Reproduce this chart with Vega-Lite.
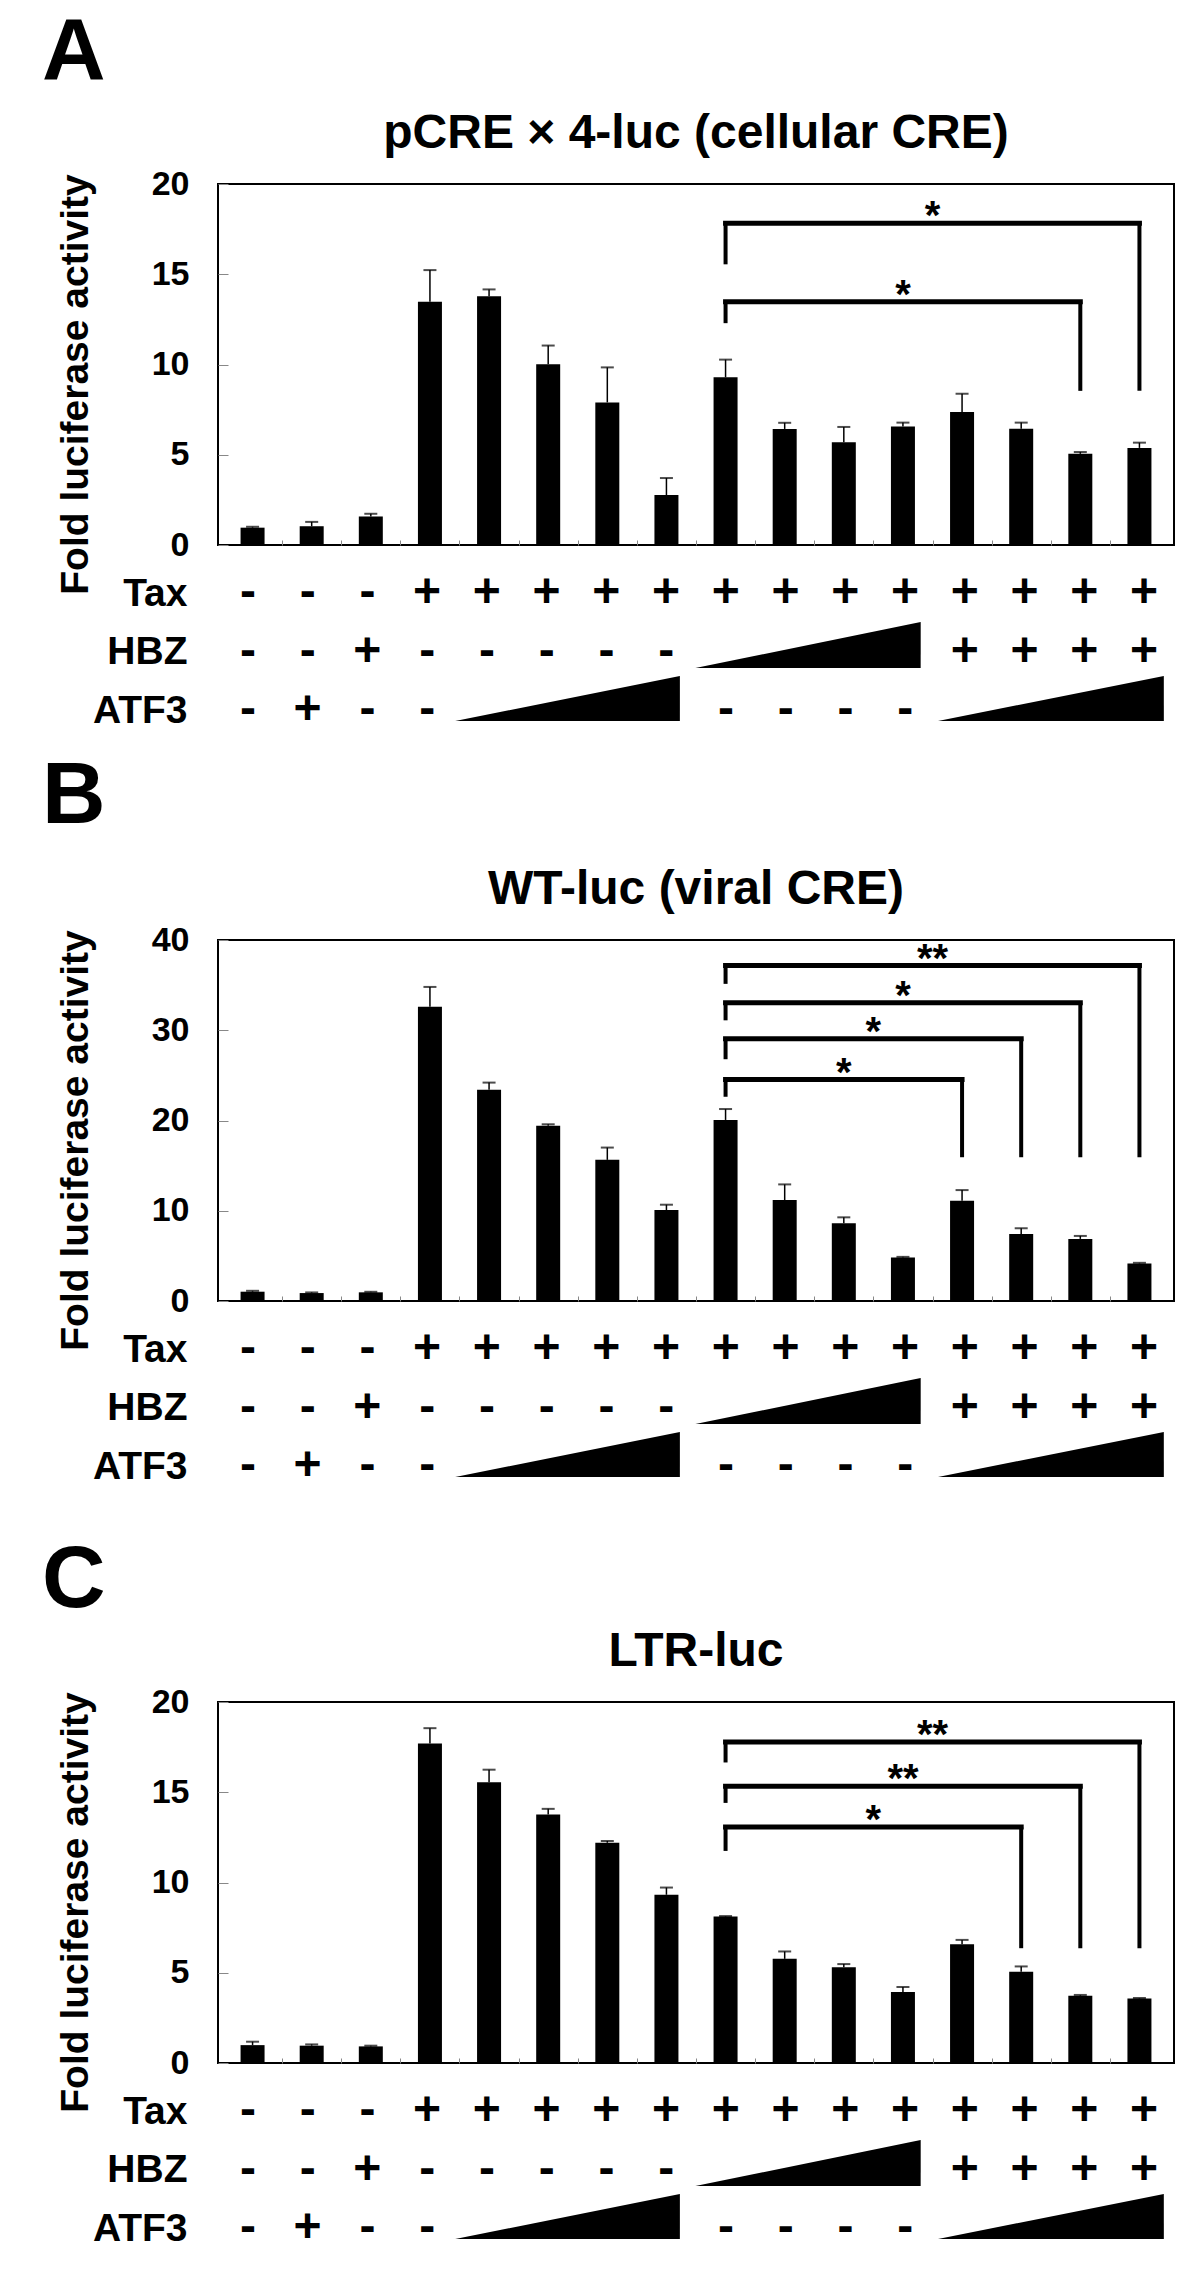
{
  "$schema": "https://vega.github.io/schema/vega-lite/v6.json",
  "background": "white",
  "padding": {"left": 42, "top": 9, "right": 5, "bottom": 5},
  "autosize": {"type": "pad"},
  "spacing": 47,
  "config": {
    "font": "Liberation Sans",
    "view": {"stroke": "#000", "strokeWidth": 2},
    "axis": {"labelFont": "Liberation Sans", "titleFont": "Liberation Sans", "labelFontWeight": "bold", "titleFontWeight": "bold", "labelColor": "#000", "titleColor": "#000", "grid": false},
    "title": {"font": "Liberation Sans", "fontWeight": "bold", "color": "#000"},
    "text": {"font": "Liberation Sans", "fontWeight": "bold", "color": "#000"}
  },
  "datasets": {
    "barsA": [
      {"col": 1, "value": 0.96, "upper": 1.01}, {"col": 2, "value": 1.04, "upper": 1.28}, {"col": 3, "value": 1.58, "upper": 1.73},
      {"col": 4, "value": 13.48, "upper": 15.23}, {"col": 5, "value": 13.78, "upper": 14.16}, {"col": 6, "value": 10.01, "upper": 11.05},
      {"col": 7, "value": 7.9, "upper": 9.84}, {"col": 8, "value": 2.77, "upper": 3.71}, {"col": 9, "value": 9.29, "upper": 10.27},
      {"col": 10, "value": 6.43, "upper": 6.77}, {"col": 11, "value": 5.69, "upper": 6.54}, {"col": 12, "value": 6.57, "upper": 6.78},
      {"col": 13, "value": 7.37, "upper": 8.38}, {"col": 14, "value": 6.44, "upper": 6.78}, {"col": 15, "value": 5.05, "upper": 5.15},
      {"col": 16, "value": 5.38, "upper": 5.67}
    ],
    "barsB": [
      {"col": 1, "value": 1.03, "upper": 1.13}, {"col": 2, "value": 0.88, "upper": 0.95}, {"col": 3, "value": 0.96, "upper": 1.02},
      {"col": 4, "value": 32.6, "upper": 34.8}, {"col": 5, "value": 23.4, "upper": 24.2}, {"col": 6, "value": 19.43, "upper": 19.58},
      {"col": 7, "value": 15.64, "upper": 17.0}, {"col": 8, "value": 10.08, "upper": 10.67}, {"col": 9, "value": 20.06, "upper": 21.27},
      {"col": 10, "value": 11.19, "upper": 12.92}, {"col": 11, "value": 8.61, "upper": 9.27}, {"col": 12, "value": 4.82, "upper": 4.89},
      {"col": 13, "value": 11.11, "upper": 12.29}, {"col": 14, "value": 7.43, "upper": 8.06}, {"col": 15, "value": 6.88, "upper": 7.21},
      {"col": 16, "value": 4.16, "upper": 4.23}
    ],
    "barsC": [
      {"col": 1, "value": 0.99, "upper": 1.18}, {"col": 2, "value": 0.96, "upper": 1.03}, {"col": 3, "value": 0.92, "upper": 0.96},
      {"col": 4, "value": 17.7, "upper": 18.55}, {"col": 5, "value": 15.55, "upper": 16.25}, {"col": 6, "value": 13.77, "upper": 14.08},
      {"col": 7, "value": 12.2, "upper": 12.3}, {"col": 8, "value": 9.32, "upper": 9.72}, {"col": 9, "value": 8.11, "upper": 8.14},
      {"col": 10, "value": 5.77, "upper": 6.18}, {"col": 11, "value": 5.31, "upper": 5.48}, {"col": 12, "value": 3.93, "upper": 4.21},
      {"col": 13, "value": 6.58, "upper": 6.82}, {"col": 14, "value": 5.06, "upper": 5.35}, {"col": 15, "value": 3.73, "upper": 3.77},
      {"col": 16, "value": 3.57, "upper": 3.6}
    ],
    "brA": [
      {"x1": 9, "x2": 16, "xm": 12.5, "lvl": 17.83, "lend": 15.55, "rend": 8.54, "lab": "*"},
      {"x1": 9, "x2": 15, "xm": 12, "lvl": 13.48, "lend": 12.29, "rend": 8.54, "lab": "*"}
    ],
    "brB": [
      {"x1": 9, "x2": 13, "xm": 11, "lvl": 24.54, "lend": 22.63, "rend": 15.93, "lab": "*"},
      {"x1": 9, "x2": 14, "xm": 11.5, "lvl": 29.07, "lend": 26.79, "rend": 15.93, "lab": "*"},
      {"x1": 9, "x2": 15, "xm": 12, "lvl": 33.05, "lend": 31.1, "rend": 15.93, "lab": "*"},
      {"x1": 9, "x2": 16, "xm": 12.5, "lvl": 37.17, "lend": 35.14, "rend": 15.93, "lab": "**"}
    ],
    "brC": [
      {"x1": 9, "x2": 14, "xm": 11.5, "lvl": 13.07, "lend": 11.75, "rend": 6.36, "lab": "*"},
      {"x1": 9, "x2": 15, "xm": 12, "lvl": 15.33, "lend": 14.41, "rend": 6.36, "lab": "**"},
      {"x1": 9, "x2": 16, "xm": 12.5, "lvl": 17.78, "lend": 16.65, "rend": 6.36, "lab": "**"}
    ],
    "table": [
      {"row": "Tax", "col": 1, "sym": "-"}, {"row": "Tax", "col": 2, "sym": "-"}, {"row": "Tax", "col": 3, "sym": "-"},
      {"row": "Tax", "col": 4, "sym": "+"}, {"row": "Tax", "col": 5, "sym": "+"}, {"row": "Tax", "col": 6, "sym": "+"},
      {"row": "Tax", "col": 7, "sym": "+"}, {"row": "Tax", "col": 8, "sym": "+"}, {"row": "Tax", "col": 9, "sym": "+"},
      {"row": "Tax", "col": 10, "sym": "+"}, {"row": "Tax", "col": 11, "sym": "+"}, {"row": "Tax", "col": 12, "sym": "+"},
      {"row": "Tax", "col": 13, "sym": "+"}, {"row": "Tax", "col": 14, "sym": "+"}, {"row": "Tax", "col": 15, "sym": "+"},
      {"row": "Tax", "col": 16, "sym": "+"},
      {"row": "HBZ", "col": 1, "sym": "-"}, {"row": "HBZ", "col": 2, "sym": "-"}, {"row": "HBZ", "col": 3, "sym": "+"},
      {"row": "HBZ", "col": 4, "sym": "-"}, {"row": "HBZ", "col": 5, "sym": "-"}, {"row": "HBZ", "col": 6, "sym": "-"},
      {"row": "HBZ", "col": 7, "sym": "-"}, {"row": "HBZ", "col": 8, "sym": "-"},
      {"row": "HBZ", "col": 13, "sym": "+"}, {"row": "HBZ", "col": 14, "sym": "+"}, {"row": "HBZ", "col": 15, "sym": "+"},
      {"row": "HBZ", "col": 16, "sym": "+"},
      {"row": "ATF3", "col": 1, "sym": "-"}, {"row": "ATF3", "col": 2, "sym": "+"}, {"row": "ATF3", "col": 3, "sym": "-"},
      {"row": "ATF3", "col": 4, "sym": "-"},
      {"row": "ATF3", "col": 9, "sym": "-"}, {"row": "ATF3", "col": 10, "sym": "-"}, {"row": "ATF3", "col": 11, "sym": "-"},
      {"row": "ATF3", "col": 12, "sym": "-"}
    ],
    "wedges": [
      {"wedge": "HBZ", "x": 8.49, "base": 1.24, "top": 1.24}, {"wedge": "HBZ", "x": 12.26, "base": 1.24, "top": 2.16},
      {"wedge": "ATF3a", "x": 4.47, "base": 0.18, "top": 0.18}, {"wedge": "ATF3a", "x": 8.23, "base": 0.18, "top": 1.08},
      {"wedge": "ATF3b", "x": 12.55, "base": 0.18, "top": 0.18}, {"wedge": "ATF3b", "x": 16.33, "base": 0.18, "top": 1.08}
    ]
  },
  "vconcat": [
    {
      "spacing": 19,
      "vconcat": [
        {
          "title": {"text": "A", "anchor": "start", "frame": "group", "fontSize": 88, "fontWeight": "bold", "dx": -176, "offset": 12},
          "bounds": "flush",
          "spacing": 15,
          "vconcat": [
            {
              "width": 956, "height": 361,
              "title": {"text": "pCRE × 4-luc (cellular CRE)", "fontSize": 48, "anchor": "middle", "frame": "group", "offset": 9},
              "layer": [
                {"data": {"name": "barsA"}, "mark": {"type": "bar", "width": 24, "color": "#000"},
                 "encoding": {
                   "x": {"field": "col", "type": "quantitative", "scale": {"domain": [0.5, 16.5], "nice": false, "zero": false},
                         "axis": {"values": [1.5, 2.5, 3.5, 4.5, 5.5, 6.5, 7.5, 8.5, 9.5, 10.5, 11.5, 12.5, 13.5, 14.5, 15.5], "labels": false, "domain": false, "ticks": true, "offset": -5, "tickSize": 5, "tickColor": "#888", "tickWidth": 1, "title": null}},
                   "y": {"field": "value", "type": "quantitative", "scale": {"domain": [0, 20], "nice": false},
                         "axis": {"values": [0, 5, 10, 15, 20], "domain": false, "offset": -10, "tickSize": 10, "tickColor": "#888", "tickWidth": 1, "labelFontSize": 34, "labelPadding": 29, "title": "Fold luciferase activity", "titleFontSize": 39, "titleX": -141, "titleY": 200, "titleAngle": 270, "titleBaseline": "alphabetic", "titleAlign": "center"}}
                 }},
                {"data": {"name": "barsA"}, "mark": {"type": "rule", "color": "#000", "strokeWidth": 1.5},
                 "encoding": {"x": {"field": "col", "type": "quantitative"}, "y": {"field": "value", "type": "quantitative"}, "y2": {"field": "upper"}}},
                {"data": {"name": "barsA"}, "mark": {"type": "tick", "orient": "horizontal", "size": 13, "thickness": 2, "color": "#000"},
                 "encoding": {"x": {"field": "col", "type": "quantitative"}, "y": {"field": "upper", "type": "quantitative"}}},
                {"data": {"name": "brA"}, "mark": {"type": "rule", "color": "#000", "strokeWidth": 5, "strokeCap": "square"},
                 "encoding": {"x": {"field": "x1", "type": "quantitative"}, "x2": {"field": "x2"}, "y": {"field": "lvl", "type": "quantitative"}}},
                {"data": {"name": "brA"}, "mark": {"type": "rule", "color": "#000", "strokeWidth": 4},
                 "encoding": {"x": {"field": "x1", "type": "quantitative"}, "y": {"field": "lvl", "type": "quantitative"}, "y2": {"field": "lend"}}},
                {"data": {"name": "brA"}, "mark": {"type": "rule", "color": "#000", "strokeWidth": 4},
                 "encoding": {"x": {"field": "x2", "type": "quantitative"}, "y": {"field": "lvl", "type": "quantitative"}, "y2": {"field": "rend"}}},
                {"data": {"name": "brA"}, "mark": {"type": "text", "fontSize": 40, "fontWeight": "bold", "baseline": "alphabetic", "dy": 6, "color": "#000"},
                 "encoding": {"x": {"field": "xm", "type": "quantitative"}, "y": {"field": "lvl", "type": "quantitative"}, "text": {"field": "lab"}}}
              ]
            },
            {
              "width": 956, "height": 170,
              "view": {"stroke": null},
              "resolve": {"scale": {"y": "independent"}},
              "layer": [
                {"data": {"name": "table"}, "mark": {"type": "text", "fontSize": 48, "fontWeight": "bold", "baseline": "middle", "align": "center", "color": "#000"},
                 "encoding": {
                   "x": {"field": "col", "type": "quantitative", "scale": {"domain": [0.5, 16.5], "nice": false, "zero": false}, "axis": null},
                   "y": {"field": "row", "type": "ordinal", "scale": {"type": "point", "domain": ["Tax", "HBZ", "ATF3"], "range": [33, 150], "padding": 0},
                         "axis": {"title": null, "domain": false, "ticks": false, "labelFontSize": 39, "labelPadding": 31}},
                   "text": {"field": "sym"}
                 }},
                {"data": {"name": "wedges"}, "mark": {"type": "area", "color": "#000"},
                 "encoding": {
                   "x": {"field": "x", "type": "quantitative", "axis": null},
                   "y": {"field": "top", "type": "quantitative", "scale": {"domain": [0, 3.4], "nice": false, "zero": false}, "axis": null},
                   "y2": {"field": "base"},
                   "detail": {"field": "wedge", "type": "nominal"}
                 }}
              ]
            }
          ]
        },
        {
          "title": {"text": "B", "anchor": "start", "frame": "group", "fontSize": 88, "fontWeight": "bold", "dx": -176, "offset": 24},
          "bounds": "flush",
          "spacing": 15,
          "vconcat": [
            {
              "width": 956, "height": 361,
              "title": {"text": "WT-luc (viral CRE)", "fontSize": 48, "anchor": "middle", "frame": "group", "offset": 9},
              "layer": [
                {"data": {"name": "barsB"}, "mark": {"type": "bar", "width": 24, "color": "#000"},
                 "encoding": {
                   "x": {"field": "col", "type": "quantitative", "scale": {"domain": [0.5, 16.5], "nice": false, "zero": false},
                         "axis": {"values": [1.5, 2.5, 3.5, 4.5, 5.5, 6.5, 7.5, 8.5, 9.5, 10.5, 11.5, 12.5, 13.5, 14.5, 15.5], "labels": false, "domain": false, "ticks": true, "offset": -5, "tickSize": 5, "tickColor": "#888", "tickWidth": 1, "title": null}},
                   "y": {"field": "value", "type": "quantitative", "scale": {"domain": [0, 40], "nice": false},
                         "axis": {"values": [0, 10, 20, 30, 40], "domain": false, "offset": -10, "tickSize": 10, "tickColor": "#888", "tickWidth": 1, "labelFontSize": 34, "labelPadding": 29, "title": "Fold luciferase activity", "titleFontSize": 39, "titleX": -141, "titleY": 200, "titleAngle": 270, "titleBaseline": "alphabetic", "titleAlign": "center"}}
                 }},
                {"data": {"name": "barsB"}, "mark": {"type": "rule", "color": "#000", "strokeWidth": 1.5},
                 "encoding": {"x": {"field": "col", "type": "quantitative"}, "y": {"field": "value", "type": "quantitative"}, "y2": {"field": "upper"}}},
                {"data": {"name": "barsB"}, "mark": {"type": "tick", "orient": "horizontal", "size": 13, "thickness": 2, "color": "#000"},
                 "encoding": {"x": {"field": "col", "type": "quantitative"}, "y": {"field": "upper", "type": "quantitative"}}},
                {"data": {"name": "brB"}, "mark": {"type": "rule", "color": "#000", "strokeWidth": 5, "strokeCap": "square"},
                 "encoding": {"x": {"field": "x1", "type": "quantitative"}, "x2": {"field": "x2"}, "y": {"field": "lvl", "type": "quantitative"}}},
                {"data": {"name": "brB"}, "mark": {"type": "rule", "color": "#000", "strokeWidth": 4},
                 "encoding": {"x": {"field": "x1", "type": "quantitative"}, "y": {"field": "lvl", "type": "quantitative"}, "y2": {"field": "lend"}}},
                {"data": {"name": "brB"}, "mark": {"type": "rule", "color": "#000", "strokeWidth": 4},
                 "encoding": {"x": {"field": "x2", "type": "quantitative"}, "y": {"field": "lvl", "type": "quantitative"}, "y2": {"field": "rend"}}},
                {"data": {"name": "brB"}, "mark": {"type": "text", "fontSize": 40, "fontWeight": "bold", "baseline": "alphabetic", "dy": 6, "color": "#000"},
                 "encoding": {"x": {"field": "xm", "type": "quantitative"}, "y": {"field": "lvl", "type": "quantitative"}, "text": {"field": "lab"}}}
              ]
            },
            {
              "width": 956, "height": 170,
              "view": {"stroke": null},
              "resolve": {"scale": {"y": "independent"}},
              "layer": [
                {"data": {"name": "table"}, "mark": {"type": "text", "fontSize": 48, "fontWeight": "bold", "baseline": "middle", "align": "center", "color": "#000"},
                 "encoding": {
                   "x": {"field": "col", "type": "quantitative", "scale": {"domain": [0.5, 16.5], "nice": false, "zero": false}, "axis": null},
                   "y": {"field": "row", "type": "ordinal", "scale": {"type": "point", "domain": ["Tax", "HBZ", "ATF3"], "range": [33, 150], "padding": 0},
                         "axis": {"title": null, "domain": false, "ticks": false, "labelFontSize": 39, "labelPadding": 31}},
                   "text": {"field": "sym"}
                 }},
                {"data": {"name": "wedges"}, "mark": {"type": "area", "color": "#000"},
                 "encoding": {
                   "x": {"field": "x", "type": "quantitative", "axis": null},
                   "y": {"field": "top", "type": "quantitative", "scale": {"domain": [0, 3.4], "nice": false, "zero": false}, "axis": null},
                   "y2": {"field": "base"},
                   "detail": {"field": "wedge", "type": "nominal"}
                 }}
              ]
            }
          ]
        }
      ]
    },
    {
      "title": {"text": "C", "anchor": "start", "frame": "group", "fontSize": 88, "fontWeight": "bold", "dx": -176, "offset": 2},
      "bounds": "flush",
      "spacing": 15,
      "vconcat": [
        {
          "width": 956, "height": 361,
          "title": {"text": "LTR-luc", "fontSize": 48, "anchor": "middle", "frame": "group", "offset": 9},
          "layer": [
            {"data": {"name": "barsC"}, "mark": {"type": "bar", "width": 24, "color": "#000"},
             "encoding": {
               "x": {"field": "col", "type": "quantitative", "scale": {"domain": [0.5, 16.5], "nice": false, "zero": false},
                     "axis": {"values": [1.5, 2.5, 3.5, 4.5, 5.5, 6.5, 7.5, 8.5, 9.5, 10.5, 11.5, 12.5, 13.5, 14.5, 15.5], "labels": false, "domain": false, "ticks": true, "offset": -5, "tickSize": 5, "tickColor": "#888", "tickWidth": 1, "title": null}},
               "y": {"field": "value", "type": "quantitative", "scale": {"domain": [0, 20], "nice": false},
                     "axis": {"values": [0, 5, 10, 15, 20], "domain": false, "offset": -10, "tickSize": 10, "tickColor": "#888", "tickWidth": 1, "labelFontSize": 34, "labelPadding": 29, "title": "Fold luciferase activity", "titleFontSize": 39, "titleX": -141, "titleY": 200, "titleAngle": 270, "titleBaseline": "alphabetic", "titleAlign": "center"}}
             }},
            {"data": {"name": "barsC"}, "mark": {"type": "rule", "color": "#000", "strokeWidth": 1.5},
             "encoding": {"x": {"field": "col", "type": "quantitative"}, "y": {"field": "value", "type": "quantitative"}, "y2": {"field": "upper"}}},
            {"data": {"name": "barsC"}, "mark": {"type": "tick", "orient": "horizontal", "size": 13, "thickness": 2, "color": "#000"},
             "encoding": {"x": {"field": "col", "type": "quantitative"}, "y": {"field": "upper", "type": "quantitative"}}},
            {"data": {"name": "brC"}, "mark": {"type": "rule", "color": "#000", "strokeWidth": 5, "strokeCap": "square"},
             "encoding": {"x": {"field": "x1", "type": "quantitative"}, "x2": {"field": "x2"}, "y": {"field": "lvl", "type": "quantitative"}}},
            {"data": {"name": "brC"}, "mark": {"type": "rule", "color": "#000", "strokeWidth": 4},
             "encoding": {"x": {"field": "x1", "type": "quantitative"}, "y": {"field": "lvl", "type": "quantitative"}, "y2": {"field": "lend"}}},
            {"data": {"name": "brC"}, "mark": {"type": "rule", "color": "#000", "strokeWidth": 4},
             "encoding": {"x": {"field": "x2", "type": "quantitative"}, "y": {"field": "lvl", "type": "quantitative"}, "y2": {"field": "rend"}}},
            {"data": {"name": "brC"}, "mark": {"type": "text", "fontSize": 40, "fontWeight": "bold", "baseline": "alphabetic", "dy": 6, "color": "#000"},
             "encoding": {"x": {"field": "xm", "type": "quantitative"}, "y": {"field": "lvl", "type": "quantitative"}, "text": {"field": "lab"}}}
          ]
        },
        {
          "width": 956, "height": 170,
          "view": {"stroke": null},
          "resolve": {"scale": {"y": "independent"}},
          "layer": [
            {"data": {"name": "table"}, "mark": {"type": "text", "fontSize": 48, "fontWeight": "bold", "baseline": "middle", "align": "center", "color": "#000"},
             "encoding": {
               "x": {"field": "col", "type": "quantitative", "scale": {"domain": [0.5, 16.5], "nice": false, "zero": false}, "axis": null},
               "y": {"field": "row", "type": "ordinal", "scale": {"type": "point", "domain": ["Tax", "HBZ", "ATF3"], "range": [33, 150], "padding": 0},
                     "axis": {"title": null, "domain": false, "ticks": false, "labelFontSize": 39, "labelPadding": 31}},
               "text": {"field": "sym"}
             }},
            {"data": {"name": "wedges"}, "mark": {"type": "area", "color": "#000"},
             "encoding": {
               "x": {"field": "x", "type": "quantitative", "axis": null},
               "y": {"field": "top", "type": "quantitative", "scale": {"domain": [0, 3.4], "nice": false, "zero": false}, "axis": null},
               "y2": {"field": "base"},
               "detail": {"field": "wedge", "type": "nominal"}
             }}
          ]
        }
      ]
    }
  ]
}
